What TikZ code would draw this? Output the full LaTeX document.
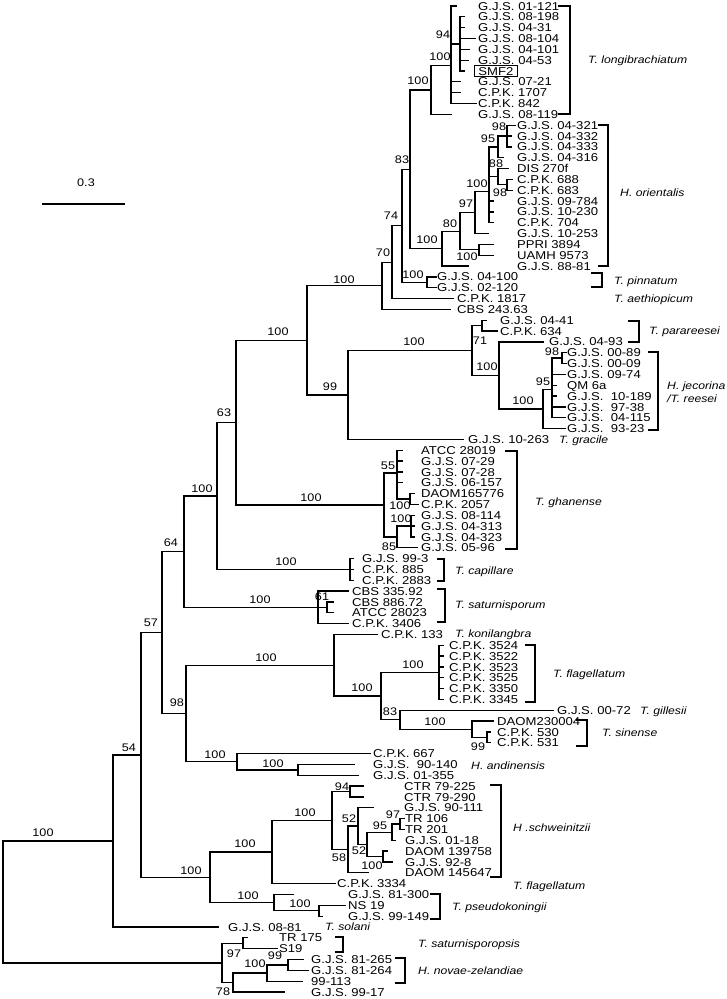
\documentclass[tikz,border=0pt]{standalone}
\usepackage{fontspec}
\setmainfont{Liberation Sans}[FakeStretch=1.15]
\usetikzlibrary{calc}
\newcommand\leaf[4]{%
  \coordinate (L#1) at (#2,{6+(#1-1)*10.835});
  \node[lbl] (T#1) at (#3,{6+(#1-1)*10.835}) {#4};}
\newcommand\inode[3]{%
  \coordinate (#1m) at (barycentric cs:#3);
  \coordinate (#1x) at (#2,0);
  \coordinate (#1) at (#1x |- #1m);}
\newcommand\br[2]{\foreach \c in {#2}{\draw[branch] (#1) |- (\c);}}
\newcommand\bs[4]{\node[bsl] (#1) at (#2,#3) {#4};}
\newcommand\brk[5]{%
  \coordinate (#1a) at (#2,#4); \coordinate (#1b) at (#3,#5);
  \draw[brack] (#1a) -| (#1b) -- (#2,#5);}
\newcommand\spl[4]{\node[spc] (#1) at (#2,#3) {#4};}
\begin{document}
\begin{tikzpicture}[x=1pt,y=-1pt,
  branch/.style={line width=1.3pt,line cap=rect},
  brack/.style={line width=1.3pt},
  lbl/.style={anchor=west,inner sep=0pt,text height=8.2pt,text depth=0pt,font=\fontsize{11.4}{12}\selectfont},
  bsl/.style={inner sep=0pt,text height=7.9pt,text depth=0pt,font=\fontsize{11}{12}\selectfont},
  spc/.style={anchor=west,inner sep=0pt,text height=7.6pt,text depth=0pt,font=\fontsize{10.6}{12}\selectfont\itshape}]
\useasboundingbox (0,0) rectangle (727,999);
% ---------------- leaves ----------------
\leaf{1}{456}{478}{G.J.S. 01-121}
\leaf{2}{464}{478}{G.J.S. 08-198}
\leaf{3}{464}{478}{G.J.S. 04-31}
\leaf{4}{475}{478}{G.J.S. 08-104}
\leaf{5}{469}{478}{G.J.S. 04-101}
\leaf{6}{468}{478}{G.J.S. 04-53}
\coordinate (L7) at (464,{6+6*10.835});
\node[lbl,draw,line width=0.8pt,inner xsep=4pt,inner ysep=1.6pt] (T7) at (474,{6+6*10.835}) {SMF2};
\leaf{8}{460}{478}{G.J.S. 07-21}
\leaf{9}{460}{478}{C.P.K. 1707}
\leaf{10}{476}{478}{C.P.K. 842}
\leaf{11}{451}{478}{G.J.S. 08-119}
\leaf{12}{515}{517}{G.J.S. 04-321}
\leaf{13}{511}{517}{G.J.S. 04-332}
\leaf{14}{511}{517}{G.J.S. 04-333}
\leaf{15}{503}{517}{G.J.S. 04-316}
\leaf{16}{508}{517}{DIS 270f}
\leaf{17}{512}{517}{C.P.K. 688}
\leaf{18}{512}{517}{C.P.K. 683}
\leaf{19}{493}{517}{G.J.S. 09-784}
\leaf{20}{493}{517}{G.J.S. 10-230}
\leaf{21}{493}{517}{C.P.K. 704}
\leaf{22}{488}{517}{G.J.S. 10-253}
\leaf{23}{493}{517}{PPRI 3894}
\leaf{24}{493}{517}{UAMH 9573}
\leaf{25}{468}{517}{G.J.S. 88-81}
\leaf{26}{436}{437}{G.J.S. 04-100}
\leaf{27}{436}{437}{G.J.S. 02-120}
\leaf{28}{453}{457}{C.P.K. 1817}
\leaf{29}{450}{457}{CBS 243.63}
\leaf{30}{486}{500}{G.J.S. 04-41}
\leaf{31}{497}{500}{C.P.K. 634}
\leaf{32}{543}{549}{G.J.S. 04-93}
\leaf{33}{566}{567}{G.J.S. 00-89}
\leaf{34}{566}{567}{G.J.S. 00-09}
\leaf{35}{565}{567}{G.J.S. 09-74}
\leaf{36}{556}{567}{QM 6a}
\leaf{37}{556}{567}{G.J.S.~~10-189}
\leaf{38}{565}{567}{G.J.S.~~97-38}
\leaf{39}{565}{567}{G.J.S.~~04-115}
\leaf{40}{565}{567}{G.J.S.~~93-23}
\leaf{41}{463}{468}{G.J.S. 10-263}
\leaf{42}{402}{421}{ATCC 28019}
\leaf{43}{402}{421}{G.J.S. 07-29}
\leaf{44}{402}{421}{G.J.S. 07-28}
\leaf{45}{402}{421}{G.J.S. 06-157}
\leaf{46}{414}{421}{DAOM165776}
\leaf{47}{418}{421}{C.P.K. 2057}
\leaf{48}{414}{421}{G.J.S. 08-114}
\leaf{49}{414}{421}{G.J.S. 04-313}
\leaf{50}{414}{421}{G.J.S. 04-323}
\leaf{51}{417}{421}{G.J.S. 05-96}
\leaf{52}{353}{362}{G.J.S. 99-3}
\leaf{53}{353}{362}{C.P.K. 885}
\leaf{54}{353}{362}{C.P.K. 2883}
\leaf{55}{348}{352}{CBS 335.92}
\leaf{56}{333}{352}{CBS 886.72}
\leaf{57}{333}{352}{ATCC 28023}
\leaf{58}{348}{352}{C.P.K. 3406}
\leaf{59}{377}{381}{C.P.K. 133}
\leaf{60}{443}{449}{C.P.K. 3524}
\leaf{61}{443}{449}{C.P.K. 3522}
\leaf{62}{443}{449}{C.P.K. 3523}
\leaf{63}{443}{449}{C.P.K. 3525}
\leaf{64}{443}{449}{C.P.K. 3350}
\leaf{65}{443}{449}{C.P.K. 3345}
\leaf{66}{553}{557}{G.J.S. 00-72}
\leaf{67}{493}{497}{DAOM230004}
\leaf{68}{490}{497}{C.P.K. 530}
\leaf{69}{490}{497}{C.P.K. 531}
\leaf{70}{370}{373}{C.P.K. 667}
\leaf{71}{354}{373}{G.J.S.~~90-140}
\leaf{72}{358}{373}{G.J.S. 01-355}
\leaf{73}{363}{404}{CTR 79-225}
\leaf{74}{363}{404}{CTR 79-290}
\leaf{75}{373}{404}{G.J.S. 90-111}
\leaf{76}{404}{405}{TR 106}
\leaf{77}{404}{405}{TR 201}
\leaf{78}{395}{405}{G.J.S. 01-18}
\leaf{79}{387}{405}{DAOM 139758}
\leaf{80}{392}{405}{G.J.S. 92-8}
\leaf{81}{368}{405}{DAOM 145647}
\leaf{82}{335}{337}{C.P.K. 3334}
\leaf{83}{293}{348}{G.J.S. 81-300}
\leaf{84}{345}{348}{NS 19}
\leaf{85}{322}{348}{G.J.S. 99-149}
\leaf{86}{218}{228}{G.J.S. 08-81}
\leaf{87}{247}{279}{TR 175}
\leaf{88}{277}{279}{S19}
\leaf{89}{303}{311}{G.J.S. 81-265}
\leaf{90}{308}{311}{G.J.S. 81-264}
\leaf{91}{302}{311}{99-113}
\leaf{92}{284}{311}{G.J.S. 99-17}
% ---------------- internal nodes ----------------
\inode{nA}{460}{L2=1,L3=1,L4=1,L5=1,L6=1,L7=1}
\inode{nB}{451}{L1=1,nA=1,L8=1,L9=1,L10=1}
\inode{nC}{431}{nB=1,L11=1}
\inode{nD}{507}{L12=1,L13=1,L14=1}
\inode{nE}{498}{nD=1,L15=1}
\inode{nF}{507}{L17=1,L18=1}
\inode{nG}{498}{L16=1,nF=1}
\inode{nH}{489}{nE=1,nG=1,L19=1,L20=1,L21=1}
\inode{nI}{475}{nH=1,L22=1}
\inode{nJ}{479}{L23=1,L24=1}
\inode{nK}{460}{nI=1,nJ=1}
\inode{nL}{442}{nK=1,L25=1}
\inode{nM}{410}{nC=1,nL=1}
\inode{nN}{427}{L26=1,L27=1}
\inode{nO}{402}{nM=1,nN=1}
\inode{nP}{392}{nO=1,L28=1}
\inode{nQ}{382}{nP=1,L29=1}
\inode{nR}{482}{L30=1,L31=1}
\inode{nS}{562}{L33=1,L34=1}
\inode{nT}{552}{nS=1,L35=1,L36=1,L37=1,L38=1,L39=1}
\inode{nU}{543}{nT=1,L40=1}
\inode{nV}{499}{L32=1,nU=1}
\inode{nW}{472}{nR=1,nV=1}
\inode{nX}{348}{nW=1,L41=1}
\inode{nY}{307}{nQ=1,nX=1}
\inode{gA}{410}{L46=1,L47=1}
\inode{gB}{397}{L42=1,L43=1,L44=1,L45=1,gA=1}
\inode{gC}{411}{L48=1,L49=1,L50=1}
\inode{gD}{397}{gC=1,L51=1}
\inode{gE}{384}{gB=1,gD=1}
\inode{nZ}{236}{nY=1,gE=1}
\inode{cA}{350}{L52=1,L53=1,L54=1}
\inode{cB}{217}{nZ=1,cA=1}
\inode{sA}{327}{L56=1,L57=1}
\inode{sB}{318}{L55=1,sA=1,L58=1}
\inode{cC}{184}{cB=1,sB=1}
\inode{fA}{439}{L60=1,L61=1,L62=1,L63=1,L64=1,L65=1}
\inode{fB}{487}{L68=1,L69=1}
\inode{fC}{472}{L67=1,fB=1}
\inode{fD}{400}{L66=1,fC=1}
\inode{fE}{381}{fA=1,fD=1}
\inode{fF}{334}{L59=1,fE=1}
\inode{aA}{298}{L71=1,L72=1}
\inode{aB}{237}{L70=1,aA=1}
\inode{fG}{186}{fF=1,aB=1}
\inode{cD}{162}{cC=1,fG=1}
\inode{hA}{350}{L73=1,L74=1}
\inode{hB}{400}{L76=1,L77=1}
\inode{hC}{392}{hB=1,L78=1}
\inode{hD}{383}{L79=1,L80=1}
\inode{hE}{367}{hC=1,hD=1}
\inode{hF}{358}{L75=1,hE=1}
\inode{hG}{348}{hF=1,L81=1}
\inode{hH}{332}{hA=1,hG=1}
\inode{hI}{272}{hH=1,L82=1}
\inode{pA}{319}{L84=1,L85=1}
\inode{pB}{274}{L83=1,pA=1}
\inode{hJ}{210}{hI=1,pB=1}
\inode{cE}{141}{cD=1,hJ=1}
\inode{cF}{113}{cE=1,L86=1}
\inode{oA}{243}{L87=1,L88=1}
\inode{oB}{288}{L89=1,L90=1}
\inode{oC}{267}{oB=1,L91=1}
\inode{oD}{233}{oC=1,L92=1}
\inode{oE}{222}{oA=1,oD=1}
\inode{root}{3}{cF=1,oE=1}
% ---------------- branches ----------------
\br{nA}{L2,L3,L4,L5,L6,L7}
\br{nB}{L1,nA,L8,L9,L10}
\br{nC}{nB,L11}
\br{nD}{L12,L13,L14}
\br{nE}{nD,L15}
\br{nF}{L17,L18}
\br{nG}{L16,nF}
\br{nH}{nE,nG,L19,L20,L21}
\br{nI}{nH,L22}
\br{nJ}{L23,L24}
\br{nK}{nI,nJ}
\br{nL}{nK,L25}
\br{nM}{nC,nL}
\br{nN}{L26,L27}
\br{nO}{nM,nN}
\br{nP}{nO,L28}
\br{nQ}{nP,L29}
\br{nR}{L30,L31}
\br{nS}{L33,L34}
\br{nT}{nS,L35,L36,L37,L38,L39}
\br{nU}{nT,L40}
\br{nV}{L32,nU}
\br{nW}{nR,nV}
\br{nX}{nW,L41}
\br{nY}{nQ,nX}
\br{gA}{L46,L47}
\br{gB}{L42,L43,L44,L45,gA}
\br{gC}{L48,L49,L50}
\br{gD}{gC,L51}
\br{gE}{gB,gD}
\br{nZ}{nY,gE}
\br{cA}{L52,L53,L54}
\br{cB}{nZ,cA}
\br{sA}{L56,L57}
\br{sB}{L55,sA,L58}
\br{cC}{cB,sB}
\br{fA}{L60,L61,L62,L63,L64,L65}
\br{fB}{L68,L69}
\br{fC}{L67,fB}
\br{fD}{L66,fC}
\br{fE}{fA,fD}
\br{fF}{L59,fE}
\br{aA}{L71,L72}
\br{aB}{L70,aA}
\br{fG}{fF,aB}
\br{cD}{cC,fG}
\br{hA}{L73,L74}
\br{hB}{L76,L77}
\br{hC}{hB,L78}
\br{hD}{L79,L80}
\br{hE}{hC,hD}
\br{hF}{L75,hE}
\br{hG}{hF,L81}
\br{hH}{hA,hG}
\br{hI}{hH,L82}
\br{pA}{L84,L85}
\br{pB}{L83,pA}
\br{hJ}{hI,pB}
\br{cE}{cD,hJ}
\br{cF}{cE,L86}
\br{oA}{L87,L88}
\br{oB}{L89,L90}
\br{oC}{oB,L91}
\br{oD}{oC,L92}
\br{oE}{oA,oD}
\br{root}{cF,oE}
% ---------------- bootstrap values ----------------
\bs{b1}{443}{35}{94}
\bs{b2}{440}{57}{100}
\bs{b3}{418}{81}{100}
\bs{b4}{402}{160}{83}
\bs{b5}{499}{127}{98}
\bs{b6}{488}{139}{95}
\bs{b7}{496}{164}{88}
\bs{b8}{477}{184}{100}
\bs{b9}{500}{193}{98}
\bs{b10}{466}{204}{97}
\bs{b11}{450}{224}{80}
\bs{b12}{427}{240}{100}
\bs{b13}{467}{257}{100}
\bs{b14}{391}{216}{74}
\bs{b15}{383}{253}{70}
\bs{b16}{413}{275}{100}
\bs{b17}{344}{280}{100}
\bs{b18}{278}{332}{100}
\bs{b19}{480}{341}{71}
\bs{b20}{414}{342}{100}
\bs{b21}{487}{367}{100}
\bs{b22}{552}{352}{98}
\bs{b23}{543}{382}{95}
\bs{b24}{523}{401}{100}
\bs{b25}{330}{387}{99}
\bs{b26}{224}{413}{63}
\bs{b27}{388}{466}{55}
\bs{b28}{311}{498}{100}
\bs{b29}{400}{506}{100}
\bs{b30}{401}{519}{100}
\bs{b31}{389}{547}{85}
\bs{b32}{202}{489}{100}
\bs{b33}{286}{562}{100}
\bs{b34}{171}{543}{64}
\bs{b35}{260}{600}{100}
\bs{b36}{322}{597}{61}
\bs{b37}{151}{623}{57}
\bs{b38}{266}{658}{100}
\bs{b39}{413}{665}{100}
\bs{b40}{362}{688}{100}
\bs{b41}{177}{703}{98}
\bs{b42}{390}{712}{83}
\bs{b43}{435}{722}{100}
\bs{b44}{478}{747}{99}
\bs{b45}{215}{755}{100}
\bs{b46}{273}{764}{100}
\bs{b47}{129}{748}{54}
\bs{b48}{342}{787}{94}
\bs{b49}{305}{813}{100}
\bs{b50}{349}{819}{52}
\bs{b51}{393}{815}{97}
\bs{b52}{380}{826}{95}
\bs{b53}{359}{851}{52}
\bs{b54}{339}{858}{58}
\bs{b55}{372}{866}{100}
\bs{b56}{245}{844}{100}
\bs{b57}{191}{871}{100}
\bs{b58}{248}{896}{100}
\bs{b59}{300}{904}{100}
\bs{b60}{43}{833}{100}
\bs{b61}{234}{954}{97}
\bs{b62}{275}{956}{99}
\bs{b63}{255}{964}{100}
\bs{b64}{223}{992}{78}
% ---------------- brackets ----------------
\brk{k1}{558}{570}{6}{114}
\brk{k2}{598}{608}{125}{266}
\brk{k3}{591}{602}{273}{287}
\brk{k4}{628}{639}{321}{342}
\brk{k5}{648}{658}{352}{430}
\brk{k6}{505}{517}{451}{549}
\brk{k7}{437}{444}{559}{581}
\brk{k8}{437}{445}{589}{622}
\brk{k9}{525}{535}{645}{702}
\brk{k10}{576}{587}{720}{746}
\brk{k11}{490}{501}{785}{877}
\brk{k12}{430}{440}{894}{919}
\brk{k13}{335}{343}{937}{952}
\brk{k14}{395}{405}{958}{983}
% ---------------- species ----------------
\spl{s1}{588}{60}{T. longibrachiatum}
\spl{s2}{620}{193}{H. orientalis}
\spl{s3}{614}{281}{T. pinnatum}
\spl{s4}{614}{299}{T. aethiopicum}
\spl{s5}{649}{331}{T. parareesei}
\spl{s6}{667}{386}{H. jecorina}
\spl{s7}{667}{399}{/T. reesei}
\spl{s8}{559}{440}{T. gracile}
\spl{s9}{535}{502}{T. ghanense}
\spl{s10}{455}{571}{T. capillare}
\spl{s11}{455}{605}{T. saturnisporum}
\spl{s12}{455}{634}{T. konilangbra}
\spl{s13}{553}{674}{T. flagellatum}
\spl{s14}{640}{711}{T. gillesii}
\spl{s15}{602}{733}{T. sinense}
\spl{s16}{471}{766}{H. andinensis}
\spl{s17}{513}{828}{H .schweinitzii}
\spl{s18}{513}{886}{T. flagellatum}
\spl{s19}{452}{907}{T. pseudokoningii}
\spl{s20}{325}{927}{T. solani}
\spl{s21}{418}{944}{T. saturnisporopsis}
\spl{s22}{418}{971}{H. novae-zelandiae}
% ---------------- scale bar ----------------
\node[bsl] (scl) at (86,183) {0.3};
\coordinate (sa) at (42,204);
\coordinate (sb) at (125,204);
\draw[brack] (sa) -- (sb);
\end{tikzpicture}
\end{document}
